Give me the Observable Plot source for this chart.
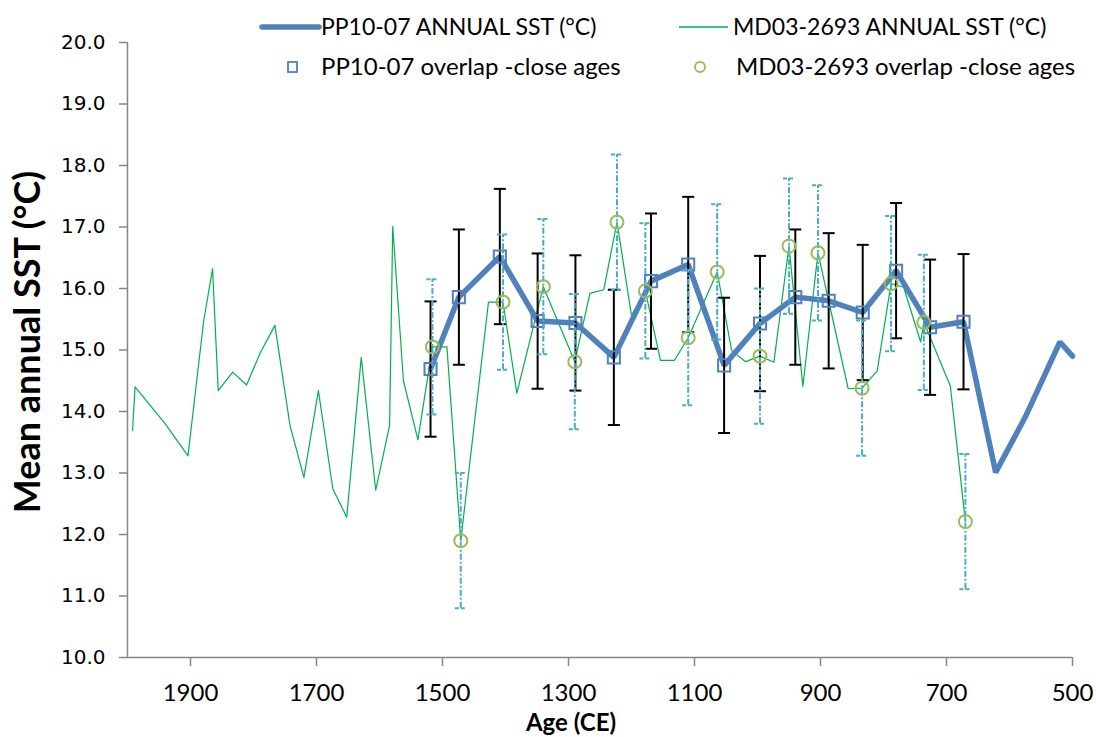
<!DOCTYPE html>
<html><head><meta charset="utf-8">
<script src="https://cdn.jsdelivr.net/npm/d3@7"></script>
<script src="https://cdn.jsdelivr.net/npm/@observablehq/plot@0.6"></script>
<style>
body{margin:0;background:#fff;}
#wrap{position:relative;width:1096px;height:737px;overflow:hidden;background:#fff;}
.lg{position:absolute;font-family:Lato,sans-serif;font-size:24px;color:#000;white-space:nowrap;line-height:24px;}
#lgsvg{position:absolute;left:0;top:0;}
g[aria-label="y-axis tick label"] text{font-family:"DejaVu Sans",sans-serif;}
</style></head><body><div id="wrap"></div>
<script>
// PP10-07 annual SST (thick blue line)
const ppAge = [1519,1474,1409,1349,1289,1228,1169,1110,1053,996,940,887,833,780,726,673,622,575,520,500];
const ppSST = [14.69,15.86,16.52,15.47,15.44,14.88,16.12,16.39,14.75,15.43,15.86,15.80,15.61,16.29,15.37,15.46,13.01,13.91,15.13,14.90];
// PP10-07 overlap - close ages (squares, black error bars)
const ppOvAge = [1519,1474,1409,1349,1289,1228,1169,1110,1053,996,940,887,833,780,726,673];
const ppOvSST = [14.69,15.86,16.52,15.47,15.44,14.88,16.12,16.39,14.75,15.43,15.86,15.80,15.61,16.29,15.37,15.46];
const ppOvErr = [1.1,1.1,1.1,1.1,1.1,1.1,1.1,1.1,1.1,1.1,1.1,1.1,1.1,1.1,1.1,1.1];
// MD03-2693 annual SST (thin green line)
const mdAge = [1992,1988,1940,1904,1879,1865,1856,1833,1811,1789,1766,1742,1720,1697,1674,1652,1629,1606,1584,1579,1562,1539,1516,1493,1471,1427,1404,1382,1340,1290,1266,1244,1223,1200,1178,1154,1132,1110,1064,1041,1019,996,974,950,928,904,856,834,810,788,768,741,736,694,670];
const mdSST = [13.69,14.40,13.80,13.28,15.48,16.32,14.34,14.64,14.43,14.96,15.40,13.77,12.93,14.34,12.74,12.28,14.88,12.72,13.77,17.01,14.50,13.54,15.05,15.05,11.90,15.78,15.78,14.30,16.03,14.81,15.92,15.98,17.08,15.56,15.96,14.83,14.83,15.20,16.27,14.99,14.81,14.90,14.80,16.69,14.41,16.58,14.37,14.38,14.66,16.08,16.02,15.13,15.45,14.42,12.21];
// MD03-2693 overlap - close ages (circles, dashed error bars)
const mdOvAge = [1516,1471,1404,1340,1290,1223,1178,1110,1064,996,950,904,834,788,736,670];
const mdOvSST = [15.05,11.90,15.78,16.03,14.81,17.08,15.96,15.20,16.27,14.90,16.69,16.58,14.38,16.08,15.45,12.21];
const mdOvErr = [1.1,1.1,1.1,1.1,1.1,1.1,1.1,1.1,1.1,1.1,1.1,1.1,1.1,1.1,1.1,1.1];
// axes
const xTicks = [1900,1700,1500,1300,1100,900,700,500];
const yTicks = [10,11,12,13,14,15,16,17,18,19,20];
const legendLabels = ["PP10-07 ANNUAL SST (°C)","MD03-2693 ANNUAL SST (°C)","PP10-07 overlap -close ages","MD03-2693 overlap -close ages"];
const yTitle = "Mean annual SST (°C)";
const xTitle = "Age (CE)";

const pp = ppAge.map((a,i)=>({age:a, sst:ppSST[i]}));
const md = mdAge.map((a,i)=>({age:a, sst:mdSST[i]}));
const ppOv = ppOvAge.map((a,i)=>({age:a, sst:ppOvSST[i], lo:ppOvSST[i]-ppOvErr[i], hi:ppOvSST[i]+ppOvErr[i]}));
const mdOv = mdOvAge.map((a,i)=>({age:a, sst:mdOvSST[i], lo:mdOvSST[i]-mdOvErr[i], hi:mdOvSST[i]+mdOvErr[i]}));

const cap = {draw(ctx){ctx.moveTo(-6,0);ctx.lineTo(6,0);}};
const BLUE="#4F81BD", GREEN="#00B050", OLIVE="#9BBB59", CYAN="#4BACC6", GRAY="#868686";
const dash = "6,2,2,2";

const chart = Plot.plot({
  width:1096, height:737,
  marginLeft:127, marginRight:24, marginTop:42, marginBottom:80,
  x:{domain:[2000,500]},
  y:{domain:[10,20]},
  style:{fontFamily:"Lato, sans-serif", background:"white", color:"#000"},
  marks:[
    Plot.axisX({ticks:xTicks, tickSize:9, tickPadding:17, stroke:GRAY, strokeWidth:1.5, fill:"#000", fontSize:24, label:null, tickFormat:d=>String(d)}),
    Plot.axisY({ticks:yTicks, tickSize:8, tickPadding:14, stroke:GRAY, strokeWidth:1.5, fill:"#000", fontSize:20, fontFamily:"DejaVu Sans", label:null, tickFormat:d=>d.toFixed(1)}),
    Plot.ruleY([10], {stroke:GRAY, strokeWidth:1.5}),
    Plot.ruleX([2000], {stroke:GRAY, strokeWidth:1.5}),
    Plot.line(md, {x:"age", y:"sst", stroke:GREEN, strokeWidth:1.2}),
    Plot.line(pp, {x:"age", y:"sst", stroke:BLUE, strokeWidth:5.5, strokeLinejoin:"miter"}),
    Plot.ruleX(ppOv, {x:"age", y1:"lo", y2:"hi", stroke:"#000", strokeWidth:2}),
    Plot.dot(ppOv, {x:"age", y:"lo", symbol:cap, fill:"none", stroke:"#000", strokeWidth:2}),
    Plot.dot(ppOv, {x:"age", y:"hi", symbol:cap, fill:"none", stroke:"#000", strokeWidth:2}),
    Plot.dot(ppOv, {x:"age", y:"sst", symbol:"square", r:6.8, fill:"none", stroke:BLUE, strokeWidth:2}),
    Plot.ruleX(mdOv, {x:"age", y1:"lo", y2:"hi", stroke:CYAN, strokeWidth:2, strokeDasharray:dash}),
    Plot.dot(mdOv, {x:"age", y:"lo", symbol:cap, fill:"none", stroke:CYAN, strokeWidth:2, strokeDasharray:"4,2"}),
    Plot.dot(mdOv, {x:"age", y:"hi", symbol:cap, fill:"none", stroke:CYAN, strokeWidth:2, strokeDasharray:"4,2"}),
    Plot.dot(mdOv, {x:"age", y:"sst", symbol:"circle", r:6.5, fill:"none", stroke:OLIVE, strokeWidth:2}),
    Plot.text([yTitle], {frameAnchor:"left", dx:-99, dy:-8, rotate:-90, textAnchor:"middle", lineAnchor:"middle", fontSize:36, fontWeight:"bold", fill:"#000"}),
    Plot.text([xTitle], {frameAnchor:"bottom", dx:-29, dy:66, textAnchor:"middle", lineAnchor:"middle", fontSize:24, fontWeight:"bold", fill:"#000"})
  ]
});
const wrap = document.getElementById("wrap");
wrap.appendChild(chart);

// legend overlay
const ns="http://www.w3.org/2000/svg";
const lg = document.createElementNS(ns,"svg");
lg.setAttribute("id","lgsvg"); lg.setAttribute("width",1096); lg.setAttribute("height",90);
lg.innerHTML =
 `<line x1="262" x2="319" y1="27" y2="27" stroke="${BLUE}" stroke-width="5.5" stroke-linecap="round"/>`+
 `<line x1="679" x2="728" y1="27" y2="27" stroke="${GREEN}" stroke-width="1.5"/>`+
 `<rect x="288" y="62" width="9" height="10" fill="none" stroke="${BLUE}" stroke-width="1.8"/>`+
 `<circle cx="700" cy="67" r="5" fill="none" stroke="${OLIVE}" stroke-width="1.8"/>`;
wrap.appendChild(lg);
const pos = [[321,27],[733,27],[321,67],[736,67]];
const lgSize = [23,23,24,24];
legendLabels.forEach((t,i)=>{
  const d=document.createElement("div"); d.className="lg"; d.textContent=t;
  d.style.fontSize=lgSize[i]+"px";
  d.style.left=pos[i][0]+"px"; d.style.top=(pos[i][1]-13)+"px";
  wrap.appendChild(d);
});
</script></body></html>
